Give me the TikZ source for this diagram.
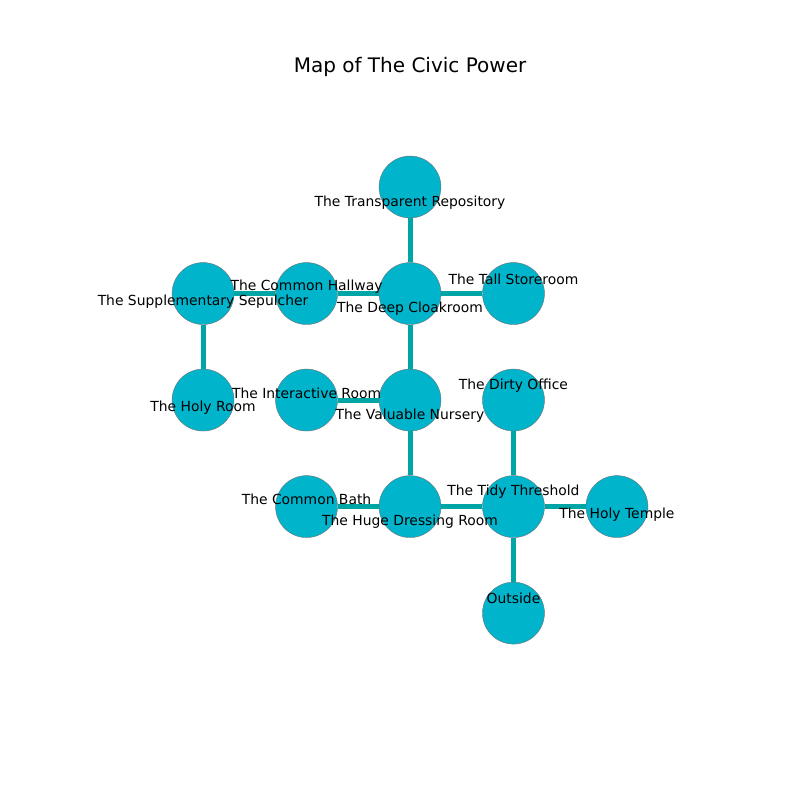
\documentclass[tikz,border=0pt]{standalone}
\usepackage{fontspec}
\setmainfont{DejaVu Sans}
\usetikzlibrary{positioning}
\definecolor{roomfill}{HTML}{00B4CC}
\definecolor{pathcol}{HTML}{00A6A6}
\tikzset{
  room/.style={circle,draw=black!55,line width=0.3pt,fill=roomfill,minimum size=44.6pt,inner sep=0pt},
  lbl/.style={font=\fontsize{10}{12}\selectfont,inner sep=0pt},
  corridor/.style={draw=pathcol,line width=3.6pt}
}

\begin{document}
\begin{tikzpicture}[x=0.72pt,y=-0.72pt,node distance=76.7pt and 74.5pt,on grid]
   \useasboundingbox (0,0) rectangle (800,800);
   \node[lbl,font=\fontsize{14.4}{17}\selectfont] (title) at (410,67) {Map of The Civic Power};
   % rooms
   \node[room] (TR) at (410,187) {};
   \node[room] (DC) [below=of TR] {};
   \node[room] (CH) [left=of DC] {};
   \node[room] (SS) [left=of CH] {};
   \node[room] (TS) [right=of DC] {};
   \node[room] (VN) [below=of DC] {};
   \node[room] (IR) [left=of VN] {};
   \node[room] (HR) [below=of SS] {};
   \node[room] (DO) [right=of VN] {};
   \node[room] (HD) [below=of VN] {};
   \node[room] (CB) [left=of HD] {};
   \node[room] (TT) [right=of HD] {};
   \node[room] (HT) [right=of TT] {};
   \node[room] (OU) [below=of TT] {};
   % corridors
   \path[corridor]
    (TR) -- (DC)
    (SS) -- (CH)
    (CH) -- (DC)
    (DC) -- (TS)
    (SS) -- (HR)
    (DC) -- (VN)
    (IR) -- (VN)
    (VN) -- (HD)
    (CB) -- (HD)
    (HD) -- (TT)
    (DO) -- (TT)
    (TT) -- (HT)
    (TT) -- (OU);
   % names
   \node[lbl] (TRl) [below=11pt of TR] {The Transparent Repository};
   \node[lbl] (SSl) [below=6pt of SS] {The Supplementary Sepulcher};
   \node[lbl] (CHl) [above=5pt of CH] {The Common Hallway};
   \node[lbl] (DCl) [below=11pt of DC] {The Deep Cloakroom};
   \node[lbl] (TSl) [above=10.5pt of TS] {The Tall Storeroom};
   \node[lbl] (HRl) [below=5.5pt of HR] {The Holy Room};
   \node[lbl] (IRl) [above=5pt of IR] {The Interactive Room};
   \node[lbl] (VNl) [below=11pt of VN] {The Valuable Nursery};
   \node[lbl] (DOl) [above=10.5pt of DO] {The Dirty Office};
   \node[lbl] (CBl) [above=5.5pt of CB] {The Common Bath};
   \node[lbl] (HDl) [below=11pt of HD] {The Huge Dressing Room};
   \node[lbl] (TTl) [above=10.5pt of TT] {The Tidy Threshold};
   \node[lbl] (HTl) [below=5.5pt of HT] {The Holy Temple};
   \node[lbl] (OUl) [above=10.5pt of OU] {Outside};
\end{tikzpicture}
\end{document}
